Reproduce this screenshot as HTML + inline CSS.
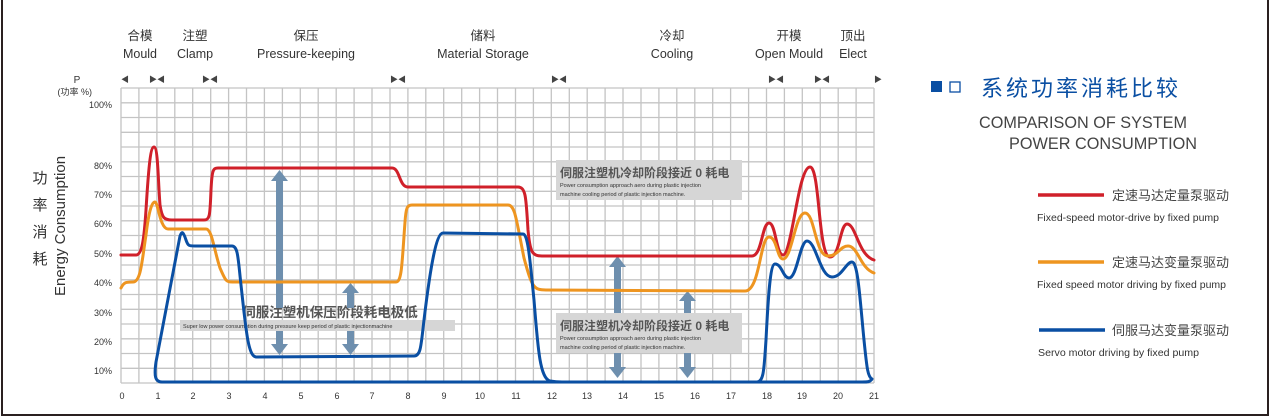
<!DOCTYPE html>
<html><head><meta charset="utf-8"><style>
body{margin:0;background:#fff;}
svg{display:block;font-family:"Liberation Sans","Noto Sans CJK SC",sans-serif;}
</style></head><body>
<svg width="1270" height="417" viewBox="0 0 1270 417" xmlns="http://www.w3.org/2000/svg">
<rect x="0" y="0" width="1270" height="417" fill="#fff"/>
<rect x="2" y="-2" width="1266" height="417" fill="none" stroke="#2a2020" stroke-width="2"/>
<g stroke="#c4c4c4" stroke-width="1.3">
<line x1="121" y1="88" x2="121" y2="383"/><line x1="138.9" y1="88" x2="138.9" y2="383"/><line x1="156.9" y1="88" x2="156.9" y2="383"/><line x1="174.8" y1="88" x2="174.8" y2="383"/><line x1="192.7" y1="88" x2="192.7" y2="383"/><line x1="210.7" y1="88" x2="210.7" y2="383"/><line x1="228.6" y1="88" x2="228.6" y2="383"/><line x1="246.5" y1="88" x2="246.5" y2="383"/><line x1="264.4" y1="88" x2="264.4" y2="383"/><line x1="282.4" y1="88" x2="282.4" y2="383"/><line x1="300.3" y1="88" x2="300.3" y2="383"/><line x1="318.2" y1="88" x2="318.2" y2="383"/><line x1="336.2" y1="88" x2="336.2" y2="383"/><line x1="354.1" y1="88" x2="354.1" y2="383"/><line x1="372" y1="88" x2="372" y2="383"/><line x1="390" y1="88" x2="390" y2="383"/><line x1="407.9" y1="88" x2="407.9" y2="383"/><line x1="425.8" y1="88" x2="425.8" y2="383"/><line x1="443.7" y1="88" x2="443.7" y2="383"/><line x1="461.7" y1="88" x2="461.7" y2="383"/><line x1="479.6" y1="88" x2="479.6" y2="383"/><line x1="497.5" y1="88" x2="497.5" y2="383"/><line x1="515.5" y1="88" x2="515.5" y2="383"/><line x1="533.4" y1="88" x2="533.4" y2="383"/><line x1="551.3" y1="88" x2="551.3" y2="383"/><line x1="569.3" y1="88" x2="569.3" y2="383"/><line x1="587.2" y1="88" x2="587.2" y2="383"/><line x1="605.1" y1="88" x2="605.1" y2="383"/><line x1="623" y1="88" x2="623" y2="383"/><line x1="641" y1="88" x2="641" y2="383"/><line x1="658.9" y1="88" x2="658.9" y2="383"/><line x1="676.8" y1="88" x2="676.8" y2="383"/><line x1="694.8" y1="88" x2="694.8" y2="383"/><line x1="712.7" y1="88" x2="712.7" y2="383"/><line x1="730.6" y1="88" x2="730.6" y2="383"/><line x1="748.6" y1="88" x2="748.6" y2="383"/><line x1="766.5" y1="88" x2="766.5" y2="383"/><line x1="784.4" y1="88" x2="784.4" y2="383"/><line x1="802.3" y1="88" x2="802.3" y2="383"/><line x1="820.3" y1="88" x2="820.3" y2="383"/><line x1="838.2" y1="88" x2="838.2" y2="383"/><line x1="856.1" y1="88" x2="856.1" y2="383"/><line x1="874" y1="88" x2="874" y2="383"/>
<line x1="121" y1="88" x2="874" y2="88"/><line x1="121" y1="102.8" x2="874" y2="102.8"/><line x1="121" y1="117.5" x2="874" y2="117.5"/><line x1="121" y1="132.3" x2="874" y2="132.3"/><line x1="121" y1="147" x2="874" y2="147"/><line x1="121" y1="161.8" x2="874" y2="161.8"/><line x1="121" y1="176.5" x2="874" y2="176.5"/><line x1="121" y1="191.3" x2="874" y2="191.3"/><line x1="121" y1="206" x2="874" y2="206"/><line x1="121" y1="220.8" x2="874" y2="220.8"/><line x1="121" y1="235.5" x2="874" y2="235.5"/><line x1="121" y1="250.3" x2="874" y2="250.3"/><line x1="121" y1="265" x2="874" y2="265"/><line x1="121" y1="279.8" x2="874" y2="279.8"/><line x1="121" y1="294.5" x2="874" y2="294.5"/><line x1="121" y1="309.3" x2="874" y2="309.3"/><line x1="121" y1="324" x2="874" y2="324"/><line x1="121" y1="338.8" x2="874" y2="338.8"/><line x1="121" y1="353.5" x2="874" y2="353.5"/><line x1="121" y1="368.3" x2="874" y2="368.3"/><line x1="121" y1="383" x2="874" y2="383"/>
</g>
<g font-size="9" fill="#333" text-anchor="end">
<text x="112" y="108">100%</text><text x="112" y="169">80%</text><text x="112" y="198">70%</text><text x="112" y="227">60%</text><text x="112" y="257">50%</text><text x="112" y="286">40%</text><text x="112" y="316">30%</text><text x="112" y="345">20%</text><text x="112" y="374">10%</text>
<text x="77" y="83" text-anchor="middle" font-size="10">P</text><text x="92" y="95" font-size="9">(功率 %)</text>
</g>
<g font-size="9" fill="#333" text-anchor="middle">
<text x="122" y="399">0</text><text x="158" y="399">1</text><text x="193" y="399">2</text><text x="229" y="399">3</text><text x="265" y="399">4</text><text x="301" y="399">5</text><text x="337" y="399">6</text><text x="372" y="399">7</text><text x="408" y="399">8</text><text x="444" y="399">9</text><text x="480" y="399">10</text><text x="516" y="399">11</text><text x="552" y="399">12</text><text x="587" y="399">13</text><text x="623" y="399">14</text><text x="659" y="399">15</text><text x="695" y="399">16</text><text x="731" y="399">17</text><text x="767" y="399">18</text><text x="802" y="399">19</text><text x="838" y="399">20</text><text x="874" y="399">21</text>
</g>
<g fill="#333" font-size="15" text-anchor="middle">
<text x="40" y="183">功</text><text x="40" y="210">率</text><text x="40" y="237">消</text><text x="40" y="264">耗</text>
<text transform="translate(65,226) rotate(-90)" font-size="15">Energy Consumption</text>
</g>
<g fill="#333" font-size="12.5" text-anchor="middle">
<text x="140" y="40">合模</text><text x="140" y="58">Mould</text>
<text x="195" y="40">注塑</text><text x="195" y="58">Clamp</text>
<text x="306" y="40">保压</text><text x="306" y="58">Pressure-keeping</text>
<text x="483" y="40">储料</text><text x="483" y="58">Material Storage</text>
<text x="672" y="40">冷却</text><text x="672" y="58">Cooling</text>
<text x="789" y="40">开模</text><text x="789" y="58">Open Mould</text>
<text x="853" y="40">顶出</text><text x="853" y="58">Elect</text>
</g>
<g fill="#444" font-size="8" text-anchor="middle">
<text x="125" y="82">◀</text><text x="157" y="82">▶◀</text><text x="210" y="82">▶◀</text><text x="398" y="82">▶◀</text><text x="559" y="82">▶◀</text><text x="776" y="82">▶◀</text><text x="822" y="82">▶◀</text><text x="878" y="82">▶</text>
</g>
<rect x="180" y="320" width="275" height="11" fill="#d6d6d6"/>
<text x="330" y="317" font-size="13.5" font-weight="bold" fill="#555" text-anchor="middle">伺服注塑机保压阶段耗电极低</text>
<text x="183" y="328" font-size="5.5" fill="#333">Super low power consumption  during pressure keep period of plastic injectionmachine</text>
<rect x="556" y="160" width="186" height="40" fill="#d6d6d6"/>
<text x="560" y="177" font-size="12" font-weight="bold" fill="#555">伺服注塑机冷却阶段接近 0 耗电</text>
<text x="560" y="187" font-size="5.5" fill="#333">Power consumption approach aero during plastic injection</text>
<text x="560" y="196" font-size="5.5" fill="#333">machine cooling period of plastic injection machine.</text>
<rect x="556" y="313" width="186" height="40" fill="#d6d6d6"/>
<text x="560" y="330" font-size="12" font-weight="bold" fill="#555">伺服注塑机冷却阶段接近 0 耗电</text>
<text x="560" y="340" font-size="5.5" fill="#333">Power consumption approach aero during plastic injection</text>
<text x="560" y="349" font-size="5.5" fill="#333">machine cooling period of plastic injection machine.</text>
<g fill="#6e8fae">
<rect x="276" y="180" width="7" height="128"/><polygon points="271,181 279.5,170 288,181"/>
<rect x="276" y="331" width="7" height="15"/><polygon points="271,344 279.5,355 288,344"/>
<rect x="347" y="290" width="7" height="18"/><polygon points="342,293 350.5,283 359,293"/>
<rect x="347" y="331" width="7" height="15"/><polygon points="342,344 350.5,355 359,344"/>
<rect x="614" y="266" width="7" height="47"/><polygon points="609,267 617.5,256 626,267"/>
<rect x="614" y="353" width="7" height="16"/><polygon points="609,367 617.5,378 626,367"/>
<rect x="684" y="300" width="7" height="13"/><polygon points="679,301 687.5,291 696,301"/>
<rect x="684" y="353" width="7" height="16"/><polygon points="679,367 687.5,378 696,367"/>
</g>
<g fill="none" stroke-width="3" stroke-linejoin="round" stroke-linecap="round">
<path stroke="#d0202a" d="M121,255 L136,255 C142,255 144,240 146,210 C149,160 151,147 154,147 C158,147 158,180 160,205 C162,218 164,220 172,220 L204,220 C210,220 210,215 211,190 C212,170 213,168 218,168 L392,168 C400,168 399,187 408,187 L518,187 C526,187 526,198 528,230 C530,252 532,256 542,256 L752,256 C762,256 762,223 769,223 C776,223 776,255 783,255 C792,255 798,167 810,167 C820,167 818,257 830,257 C840,257 840,224 847,224 C856,224 858,255 874,260"/>
<path stroke="#ee9520" d="M121,288 C124,282 126,282 133,282 C141,282 142,260 146,235 C149,210 152,202 155,202 C158,202 160,229 168,229 L206,229 C212,229 214,250 220,268 C226,282 226,282 234,282 L396,282 C402,282 402,262 405,222 C406,208 407,205 412,205 L508,205 C515,205 516,218 524,258 C532,288 534,290 546,290 L745,291 C760,291 760,237 769,237 C777,237 777,259 783,259 C792,259 795,213 805,213 C815,213 815,256 828,256 C838,256 840,246 848,246 C858,246 860,268 874,273"/>
<path stroke="#0a4fa3" d="M162,382 C155,382 154,376 156,362 L180,236 C182,231 183,231 186,240 C188,246 189,246 195,246 L232,246 C238,246 238,258 241,285 C246,330 248,356 256,357 L414,356 C421,356 421,345 424,320 C430,270 436,233 443,233 L523,234 C528,234 530,260 534,300 C538,350 540,378 550,381 C556,382 556,382 562,382 L757,382 C764,382 764,368 766,340 C768,300 770,264 775,264 C782,264 783,278 789,278 C797,278 800,241 807,241 C816,241 820,277 832,277 C842,277 846,262 852,262 C858,262 860,300 864,340 C867,370 868,377 872,379 C870,382 868,382 862,382 L162,382"/>
</g>
<rect x="931" y="81" width="11" height="11" fill="#0a4fa3"/>
<rect x="950" y="82" width="10" height="10" fill="none" stroke="#0a4fa3" stroke-width="1.3"/>
<text x="981" y="96" font-size="22" fill="#0a4fa3" letter-spacing="3">系统功率消耗比较</text>
<text x="979" y="128" font-size="16.5" fill="#444" textLength="208" lengthAdjust="spacingAndGlyphs">COMPARISON OF SYSTEM</text>
<text x="1009" y="149" font-size="16.5" fill="#444" textLength="188" lengthAdjust="spacingAndGlyphs">POWER CONSUMPTION</text>
<line x1="1038" y1="195" x2="1104" y2="195" stroke="#d0202a" stroke-width="3.5"/>
<text x="1112" y="200" font-size="13" fill="#444">定速马达定量泵驱动</text>
<text x="1037" y="221" font-size="10" fill="#333" textLength="182" lengthAdjust="spacingAndGlyphs">Fixed-speed motor-drive by fixed pump</text>
<line x1="1038" y1="262" x2="1104" y2="262" stroke="#ee9520" stroke-width="3.5"/>
<text x="1112" y="267" font-size="13" fill="#444">定速马达变量泵驱动</text>
<text x="1037" y="288" font-size="10" fill="#333" textLength="189" lengthAdjust="spacingAndGlyphs">Fixed speed motor driving by fixed pump</text>
<line x1="1039" y1="330" x2="1105" y2="330" stroke="#0a4fa3" stroke-width="3.5"/>
<text x="1112" y="335" font-size="13" fill="#444">伺服马达变量泵驱动</text>
<text x="1038" y="356" font-size="10" fill="#333" textLength="161" lengthAdjust="spacingAndGlyphs">Servo motor driving by fixed pump</text>
</svg>
</body></html>
